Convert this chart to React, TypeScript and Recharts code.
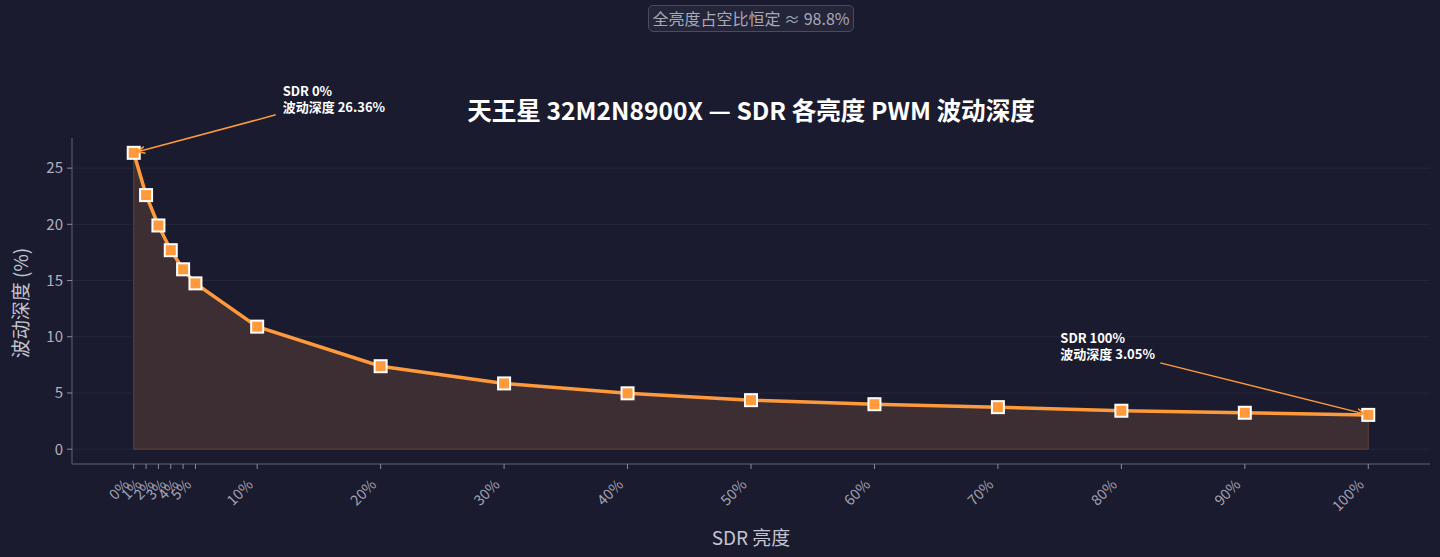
import React from 'react';
import {
  ComposedChart,
  Area,
  Line,
  XAxis,
  YAxis,
  CartesianGrid,
  ReferenceLine,
  ReferenceDot,
} from 'recharts';

// SDR brightness levels (%) and measured PWM ripple depth (%)
const brightness = [0, 1, 2, 3, 4, 5, 10, 20, 30, 40, 50, 60, 70, 80, 90, 100];
const depth = [26.36, 22.6, 19.9, 17.7, 16.0, 14.75, 10.9, 7.38, 5.85, 4.97, 4.36, 4.0, 3.74, 3.42, 3.24, 3.05];
const yTicks = [0, 5, 10, 15, 20, 25];

const title = '天王星 32M2N8900X — SDR 各亮度 PWM 波动深度';
const badge = '全亮度占空比恒定 ≈ 98.8%';

const data = brightness.map((b, i) => ({ b, v: depth[i] }));
const first = data[0];
const last = data[data.length - 1];

const BG = '#1a1b2e';
const ORANGE = '#ff9a3c';
const FILL = '#3d2e33';
const EDGE = '#5a3d35';
const FONT = '"Noto Sans CJK SC", "Noto Sans", sans-serif';

const XTick = ({ x, y, payload }: any) => (
  <g transform={`translate(${x - 9},${y + 9})`}>
    <text
      x={0}
      y={0}
      dy={8}
      textAnchor="end"
      transform="rotate(-45)"
      fill="#a4a4b4"
      fontSize={14.5}
      fontFamily={FONT}
    >
      {payload.value}%
    </text>
  </g>
);

const SquareDot = ({ cx, cy }: any) => {
  if (cx == null || cy == null) return null;
  return <rect x={cx - 6} y={cy - 6} width={12} height={12} fill={ORANGE} stroke="#fff" strokeWidth={2} />;
};

// annotation: text block plus an arrow pointing at the point
const Callout = ({ cx, cy, tx, ty, ax, ay, lines }: any) => {
  const hx = cx + (ax > 0 ? 4 : -4);
  const hy = cy - 1;
  const ang = Math.atan2(hy - (cy + ay), hx - (cx + ax));
  const L = 8;
  const w = 0.45;
  return (
    <g>
      <line x1={cx + ax} y1={cy + ay} x2={hx} y2={hy} stroke={ORANGE} strokeWidth={1.5} />
      <polyline
        points={`${hx - L * Math.cos(ang - w)},${hy - L * Math.sin(ang - w)} ${hx},${hy} ${hx - L * Math.cos(ang + w)},${hy - L * Math.sin(ang + w)}`}
        fill="none"
        stroke={ORANGE}
        strokeWidth={1.5}
      />
      {lines.map((t: string, i: number) => (
        <text key={i} x={cx + tx} y={cy + ty + i * 16.5} fill="#fff" fontSize={13} fontWeight={700} fontFamily={FONT}>
          {t}
        </text>
      ))}
    </g>
  );
};

export default function App() {
  return (
    <div style={{ position: 'absolute', left: 0, top: 0, width: 1440, height: 557, background: BG, fontFamily: FONT }}>
      <div
        style={{
          position: 'absolute',
          left: 648,
          top: 5,
          width: 206,
          height: 27,
          boxSizing: 'border-box',
          border: '1px solid #4a4b5e',
          borderRadius: 5,
          background: '#242538',
          color: '#a8a8b8',
          fontSize: 16,
          lineHeight: '25px',
          textAlign: 'center',
          whiteSpace: 'nowrap',
        }}
      >
        {badge}
      </div>
      <div
        style={{
          position: 'absolute',
          left: 0,
          width: 1502,
          top: 92,
          textAlign: 'center',
          color: '#fff',
          fontSize: 24.6,
          lineHeight: '34px',
          fontWeight: 700,
        }}
      >
        {title}
      </div>
      <div
        style={{
          position: 'absolute',
          left: 751,
          top: 523,
          transform: 'translateX(-50%)',
          color: '#c4c4d0',
          fontSize: 19,
          whiteSpace: 'nowrap',
        }}
      >
        SDR 亮度
      </div>
      <div
        style={{
          position: 'absolute',
          left: 19,
          top: 303,
          transform: 'translate(-50%,-50%) rotate(-90deg)',
          color: '#c4c4d0',
          fontSize: 19,
          whiteSpace: 'nowrap',
        }}
      >
        波动深度 (%)
      </div>
      <ComposedChart
        width={1440}
        height={557}
        data={data}
        margin={{ top: 138, right: 10, bottom: 0, left: 0 }}
        style={{ position: 'absolute', left: 0, top: 0 }}
      >
        <CartesianGrid vertical={false} stroke="#25273b" strokeWidth={1} syncWithTicks />
        <XAxis
          dataKey="b"
          type="number"
          domain={[-5, 105]}
          ticks={brightness}
          interval={0}
          height={93}
          tick={<XTick />}
          tickSize={5}
          tickLine={{ stroke: '#8a8a9a' }}
          axisLine={{ stroke: '#4a4b5c', strokeWidth: 1.5 }}
          allowDataOverflow
        />
        <YAxis
          type="number"
          domain={[-1.318, 27.68]}
          ticks={yTicks}
          width={72}
          allowDataOverflow
          tickSize={5}
          tickMargin={4}
          tickLine={{ stroke: '#8a8a9a' }}
          axisLine={{ stroke: '#4a4b5c', strokeWidth: 1.5 }}
          tick={{ fill: '#b0b0c0', fontSize: 15, fontFamily: FONT }}
        />
        <Area
          dataKey="v"
          type="linear"
          baseValue={0}
          fill={FILL}
          fillOpacity={1}
          stroke="none"
          isAnimationActive={false}
        />
        <ReferenceLine
          segment={[{ x: first.b, y: 0 }, { x: last.b, y: 0 }]}
          stroke={EDGE}
          strokeWidth={1.2}
          ifOverflow="visible"
        />
        <ReferenceLine
          segment={[{ x: first.b, y: 0 }, { x: first.b, y: first.v }]}
          stroke={EDGE}
          strokeWidth={1.2}
          ifOverflow="visible"
        />
        <ReferenceLine
          segment={[{ x: last.b, y: 0 }, { x: last.b, y: last.v }]}
          stroke={EDGE}
          strokeWidth={1.2}
          ifOverflow="visible"
        />
        <Line
          dataKey="v"
          type="linear"
          stroke={ORANGE}
          strokeWidth={3.5}
          dot={<SquareDot />}
          activeDot={false}
          isAnimationActive={false}
        />
        <ReferenceDot
          x={first.b}
          y={first.v}
          ifOverflow="visible"
          shape={(p: any) => (
            <Callout
              cx={p.cx}
              cy={p.cy}
              tx={149}
              ty={-57}
              ax={142}
              ay={-38}
              lines={[`SDR ${first.b}%`, `波动深度 ${first.v.toFixed(2)}%`]}
            />
          )}
        />
        <ReferenceDot
          x={last.b}
          y={last.v}
          ifOverflow="visible"
          shape={(p: any) => (
            <Callout
              cx={p.cx}
              cy={p.cy}
              tx={-308}
              ty={-72}
              ax={-208}
              ay={-52}
              lines={[`SDR ${last.b}%`, `波动深度 ${last.v.toFixed(2)}%`]}
            />
          )}
        />
      </ComposedChart>
    </div>
  );
}
